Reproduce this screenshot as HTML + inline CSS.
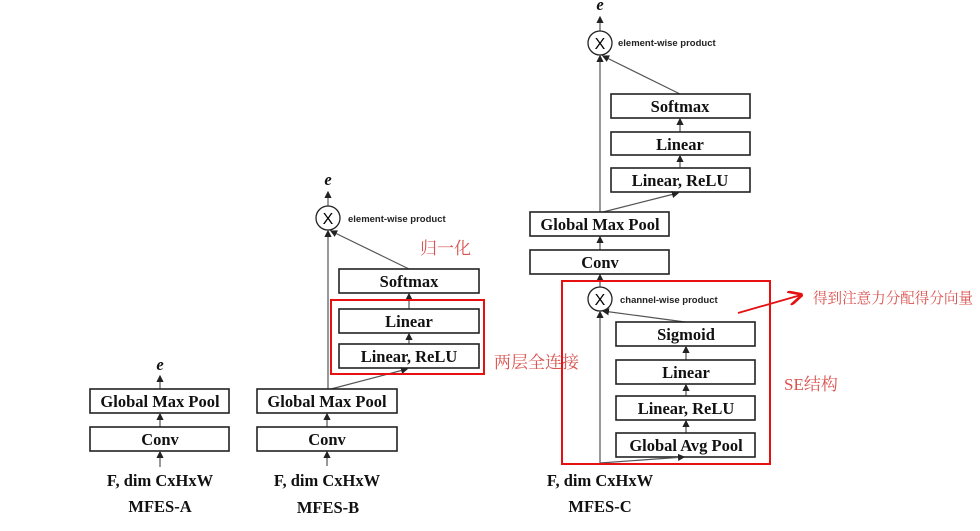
<!DOCTYPE html>
<html><head><meta charset="utf-8"><style>
html,body{margin:0;padding:0;background:#fff;}
svg text{font-family:"Liberation Serif","Noto Serif CJK SC",serif;}
.b{fill:#fff;stroke:#222;stroke-width:1.6}
.t{font-size:16.5px;font-weight:bold;fill:#111;text-anchor:middle}
.s{font-family:"Liberation Sans",sans-serif!important;font-size:9.5px;fill:#222;font-weight:600}
.l{stroke:#555;stroke-width:1.2;fill:none}
.r{fill:none;stroke:#e61010;stroke-width:2}
.c{font-family:"Liberation Serif","Noto Serif CJK SC",serif!important;fill:#d9534f;font-size:17px}
</style></head><body>
<svg width="980" height="526" viewBox="0 0 980 526" xmlns="http://www.w3.org/2000/svg">
<defs><marker id="a" markerWidth="6" markerHeight="6" refX="5" refY="3" orient="auto"><path d="M0,0 L6,3 L0,6z" fill="#222"/></marker>
<marker id="ra" markerWidth="8" markerHeight="8" refX="7" refY="4" orient="auto"><path d="M0,0 L8,4 L0,8" fill="none" stroke="#e61010" stroke-width="1.5"/></marker></defs>

<!-- MFES-A -->
<text x="160" y="370" class="t" font-style="italic" font-weight="normal">e</text>
<line class="l" x1="160" y1="389" x2="160" y2="376" marker-end="url(#a)"/>
<rect class="b" x="90" y="389" width="139" height="24"/><text x="160" y="407" class="t">Global Max Pool</text>
<line class="l" x1="160" y1="427" x2="160" y2="414" marker-end="url(#a)"/>
<rect class="b" x="90" y="427" width="139" height="24"/><text x="160" y="445" class="t">Conv</text>
<line class="l" x1="160" y1="467" x2="160" y2="452" marker-end="url(#a)"/>
<text x="160" y="486" class="t">F, dim CxHxW</text>
<text x="160" y="512" class="t">MFES-A</text>

<!-- MFES-B -->
<text x="328" y="185" class="t" font-style="italic" font-weight="normal">e</text>
<line class="l" x1="328" y1="206" x2="328" y2="192" marker-end="url(#a)"/>
<circle cx="328" cy="218" r="12" fill="#fff" stroke="#222" stroke-width="1.3"/>
<text x="328" y="224" font-size="16" text-anchor="middle" style="font-family:'Liberation Sans',sans-serif">X</text>
<text x="348" y="222" class="s">element-wise product</text>
<line class="l" x1="328" y1="389" x2="328" y2="231" marker-end="url(#a)"/>
<line class="l" x1="409" y1="269" x2="331" y2="231" marker-end="url(#a)"/>
<rect class="b" x="339" y="269" width="140" height="24"/><text x="409" y="287" class="t">Softmax</text>
<line class="l" x1="409" y1="309" x2="409" y2="294" marker-end="url(#a)"/>
<rect class="b" x="339" y="309" width="140" height="24"/><text x="409" y="327" class="t">Linear</text>
<line class="l" x1="409" y1="344" x2="409" y2="334" marker-end="url(#a)"/>
<rect class="b" x="339" y="344" width="140" height="24"/><text x="409" y="362" class="t">Linear, ReLU</text>
<line class="l" x1="331" y1="389" x2="407" y2="369" marker-end="url(#a)"/>
<rect class="r" x="331" y="300" width="153" height="74"/>
<rect class="b" x="257" y="389" width="140" height="24"/><text x="327" y="407" class="t">Global Max Pool</text>
<line class="l" x1="327" y1="427" x2="327" y2="414" marker-end="url(#a)"/>
<rect class="b" x="257" y="427" width="140" height="24"/><text x="327" y="445" class="t">Conv</text>
<line class="l" x1="327" y1="466" x2="327" y2="452" marker-end="url(#a)"/>
<text x="327" y="486" class="t">F, dim CxHxW</text>
<text x="328" y="513" class="t">MFES-B</text>
<text x="420" y="254" class="c">归一化</text>
<text x="494" y="368" class="c">两层全连接</text>

<!-- MFES-C -->
<text x="600" y="10" class="t" font-style="italic" font-weight="normal">e</text>
<line class="l" x1="600" y1="31" x2="600" y2="17" marker-end="url(#a)"/>
<circle cx="600" cy="43" r="12" fill="#fff" stroke="#222" stroke-width="1.3"/>
<text x="600" y="49" font-size="16" text-anchor="middle" style="font-family:'Liberation Sans',sans-serif">X</text>
<text x="618" y="46" class="s">element-wise product</text>
<line class="l" x1="600" y1="212" x2="600" y2="56" marker-end="url(#a)"/>
<line class="l" x1="680" y1="94" x2="603" y2="56" marker-end="url(#a)"/>
<rect class="b" x="611" y="94" width="139" height="24"/><text x="680" y="112" class="t">Softmax</text>
<line class="l" x1="680" y1="132" x2="680" y2="119" marker-end="url(#a)"/>
<rect class="b" x="611" y="132" width="139" height="23"/><text x="680" y="150" class="t">Linear</text>
<line class="l" x1="680" y1="168" x2="680" y2="156" marker-end="url(#a)"/>
<rect class="b" x="611" y="168" width="139" height="24"/><text x="680" y="186" class="t">Linear, ReLU</text>
<line class="l" x1="603" y1="212" x2="678" y2="193" marker-end="url(#a)"/>
<rect class="b" x="530" y="212" width="139" height="24"/><text x="600" y="230" class="t">Global Max Pool</text>
<line class="l" x1="600" y1="250" x2="600" y2="237" marker-end="url(#a)"/>
<rect class="b" x="530" y="250" width="139" height="24"/><text x="600" y="268" class="t">Conv</text>
<line class="l" x1="600" y1="287" x2="600" y2="275" marker-end="url(#a)"/>
<circle cx="600" cy="299" r="12" fill="#fff" stroke="#222" stroke-width="1.3"/>
<text x="600" y="305" font-size="16" text-anchor="middle" style="font-family:'Liberation Sans',sans-serif">X</text>
<text x="620" y="303" class="s">channel-wise product</text>
<line class="l" x1="600" y1="463" x2="600" y2="312" marker-end="url(#a)"/>
<line class="l" x1="685" y1="322" x2="603" y2="311" marker-end="url(#a)"/>
<rect class="b" x="616" y="322" width="139" height="24"/><text x="686" y="340" class="t">Sigmoid</text>
<line class="l" x1="686" y1="360" x2="686" y2="347" marker-end="url(#a)"/>
<rect class="b" x="616" y="360" width="139" height="24"/><text x="686" y="378" class="t">Linear</text>
<line class="l" x1="686" y1="396" x2="686" y2="385" marker-end="url(#a)"/>
<rect class="b" x="616" y="396" width="139" height="24"/><text x="686" y="414" class="t">Linear, ReLU</text>
<line class="l" x1="686" y1="433" x2="686" y2="421" marker-end="url(#a)"/>
<rect class="b" x="616" y="433" width="139" height="24"/><text x="686" y="451" class="t">Global Avg Pool</text>
<line class="l" x1="600" y1="463" x2="684" y2="457" marker-end="url(#a)"/>
<rect class="r" x="562" y="281" width="208" height="183"/>
<text x="600" y="486" class="t">F, dim CxHxW</text>
<text x="600" y="512" class="t">MFES-C</text>
<line x1="738" y1="313" x2="801" y2="295" stroke="#e61010" stroke-width="1.8" marker-end="url(#ra)"/>
<text x="813" y="303" class="c" style="font-size:15px" textLength="160" lengthAdjust="spacingAndGlyphs">得到注意力分配得分向量</text>
<text x="784" y="390" class="c">SE结构</text>
</svg>
</body></html>
